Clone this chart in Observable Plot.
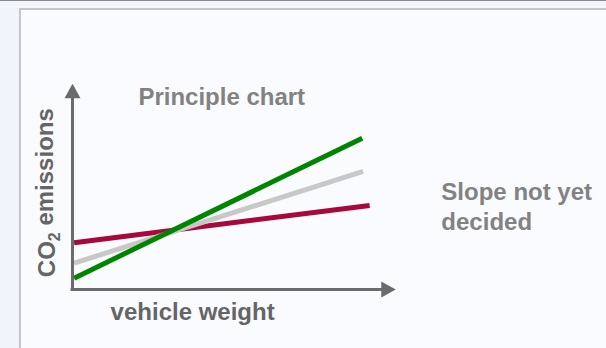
<!DOCTYPE html>
<html>
<head>
<meta charset="utf-8">
<script src="https://cdn.jsdelivr.net/npm/d3@7"></script>
<script src="https://cdn.jsdelivr.net/npm/@observablehq/plot@0.6"></script>
<style>
  html, body { margin: 0; padding: 0; }
  body { width: 606px; height: 348px; background: #f2f4fb; position: relative; overflow: hidden; font-family: "Liberation Sans", Arial, sans-serif; }
  #topline { position: absolute; left: 0; top: 0; width: 606px; height: 1px; background: #8a8a8a; }
  #panel { position: absolute; left: 19px; top: 8px; width: 620px; height: 360px; background: #fafbfe; border: 2px solid #c6c6c9; box-sizing: border-box; }
  #chart { position: absolute; left: 0; top: 0; }
</style>
</head>
<body>
<div id="topline"></div>
<div id="panel"></div>
<div id="chart"></div>
<script>
// Series: straight lines (start and end points in abstract units)
const series = ["Series A", "Series B", "Series C"];
const xStart = [0.5, 0.5, 0.5];
const xEnd   = [92, 90, 89.7];
const yStart = [22.7, 12.8, 5.5];
const yEnd   = [40.8, 57.3, 73.4];
const seriesColors = ["#a8083c", "#c8c8c8", "#008500"];

// Labels
const title = "Principle chart";
const xLabel = "vehicle weight";
const yLabelMain = "CO";
const yLabelSub = "2";
const yLabelRest = " emissions";
const note = "Slope not yet\ndecided";

const lineData = series.flatMap((s, i) => [
  {s, x: xStart[i], y: yStart[i]},
  {s, x: xEnd[i], y: yEnd[i]}
]);

const upHead = { draw(ctx) { ctx.moveTo(0, -9); ctx.lineTo(8, 5.5); ctx.lineTo(-8, 5.5); ctx.closePath(); } };
const rightHead = { draw(ctx) { ctx.moveTo(9, 0); ctx.lineTo(-5.5, 8); ctx.lineTo(-5.5, -8); ctx.closePath(); } };

const axisColor = "#6b6b6b";
const font = "'Liberation Sans', Arial, sans-serif";
const yLabelFull = yLabelMain + yLabelSub + yLabelRest;
const chart = Plot.plot({
  width: 606,
  height: 348,
  marginLeft: 72,
  marginRight: 211,
  marginTop: 83,
  marginBottom: 59,
  x: {domain: [0, 100], axis: null},
  y: {domain: [0, 100], axis: null},
  color: {domain: series, range: seriesColors},
  style: {background: "transparent", fontFamily: font},
  marks: [
    Plot.line(lineData, {x: "x", y: "y", z: "s", stroke: "s", strokeWidth: 5, strokeLinecap: "butt"}),
    Plot.ruleX([0], {y1: 0, y2: 93, stroke: axisColor, strokeWidth: 3}),
    Plot.ruleY([0], {x1: -0.45, x2: 98, stroke: axisColor, strokeWidth: 3}),
    Plot.dot([{x: 0, y: 95.5}], {x: "x", y: "y", symbol: upHead, fill: axisColor, stroke: "none", r: 5}),
    Plot.dot([{x: 97.3, y: 0}], {x: "x", y: "y", symbol: rightHead, fill: axisColor, stroke: "none", r: 5}),
    Plot.text([title], {x: 20.4, y: 93.1, text: d => d, textAnchor: "start", fontSize: 24, fontWeight: "bold", fill: "#828282"}),
    Plot.text([xLabel], {x: 11.8, y: -11.3, text: d => d, textAnchor: "start", fontSize: 24, fontWeight: "bold", fill: "#656565"}),
    Plot.text([yLabelFull], {x: -7.65, y: 47, text: d => d, rotate: -90, fontSize: 24, fontWeight: "bold", fill: "#656565", className: "ylab"}),
    Plot.text([note], {x: 114.2, y: 54.2, text: d => d, textAnchor: "start", lineAnchor: "top", lineHeight: 1.27, fontSize: 24, fontWeight: "bold", fill: "#828282"})
  ]
});
// Render the subscript in the y label with tspans
d3.select(chart).selectAll(".ylab text").each(function() {
  const t = d3.select(this);
  t.text(null);
  t.append("tspan").text(yLabelMain);
  t.append("tspan").attr("dy", "0.28em").attr("font-size", 16).text(yLabelSub);
  t.append("tspan").attr("dy", "-0.28em").text(yLabelRest);
});
document.getElementById("chart").appendChild(chart);
</script>
</body>
</html>
